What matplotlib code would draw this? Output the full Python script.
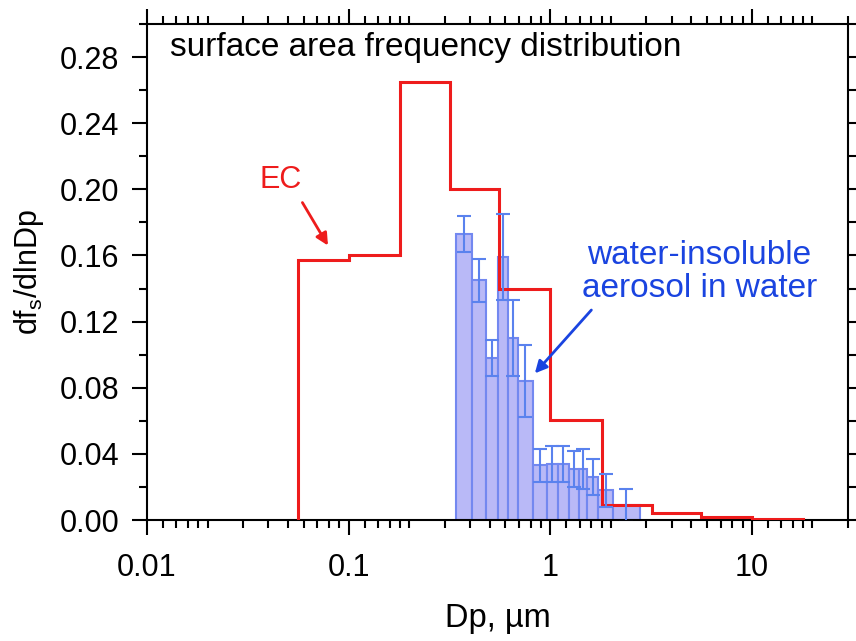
import matplotlib.pyplot as plt
import matplotlib.ticker as mticker
import numpy as np

plt.rcParams["font.family"] = ["Liberation Sans", "DejaVu Sans"]
plt.rcParams["mathtext.fontset"] = "custom"
plt.rcParams["mathtext.rm"] = "Liberation Sans"

# EC impactor stages (size bin edges, um) and surface-area frequency
ec_edges = [0.056, 0.10, 0.18, 0.32, 0.56, 1.0, 1.8, 3.2, 5.6, 10.0, 18.0]
ec_values = [0.157, 0.160, 0.265, 0.200, 0.140, 0.0605, 0.0088, 0.0043, 0.002, 0.0004]

# water-insoluble aerosol in water (bin edges, um), values and errors
wi_edges = [0.34, 0.41, 0.48, 0.55, 0.62, 0.69, 0.82, 0.96, 1.09, 1.24,
            1.39, 1.52, 1.73, 2.05, 2.78]
wi_values = [0.173, 0.145, 0.098, 0.159, 0.110, 0.084, 0.033, 0.034, 0.034,
             0.031, 0.031, 0.026, 0.018, 0.009]
wi_errors = [0.011, 0.013, 0.011, 0.026, 0.023, 0.022, 0.010, 0.011, 0.011,
             0.011, 0.012, 0.011, 0.010, 0.010]

RED = "#ee1c1c"
BLUE_TEXT = "#1a44e0"
BAR_FILL = "#b9b9f7"
BAR_EDGE = "#7388f0"
ERR_COLOR = "#5a82ee"

fig = plt.figure(figsize=(8.56, 6.41), dpi=100)
ax = fig.add_axes([147 / 856, 1 - 520 / 641, 701 / 856, 496 / 641])

edges = np.array(wi_edges)
ax.bar(edges[:-1], wi_values, width=np.diff(edges), align="edge",
       color=BAR_FILL, edgecolor=BAR_EDGE, linewidth=1.5, zorder=2)
centers = np.sqrt(edges[:-1] * edges[1:])
ax.errorbar(centers, wi_values, yerr=wi_errors, fmt="none", ecolor=ERR_COLOR,
            elinewidth=1.5, capsize=4.7, capthick=1.5, zorder=4)

ax.stairs(ec_values, ec_edges, baseline=0, color=RED, linewidth=2.2, zorder=3)

ax.set_xscale("log")
ax.set_xlim(0.01, 30)
ax.set_ylim(0, 0.30)

ax.xaxis.set_major_locator(mticker.FixedLocator([0.01, 0.1, 1, 10]))
ax.xaxis.set_major_formatter(mticker.FixedFormatter(["0.01", "0.1", "1", "10"]))
ax.xaxis.set_minor_locator(mticker.LogLocator(
    base=10, subs=[1.2, 1.4, 1.6, 1.8, 2, 3, 4, 5, 6, 7, 8, 9], numticks=20))
ax.xaxis.set_minor_formatter(mticker.NullFormatter())
ax.yaxis.set_major_locator(mticker.MultipleLocator(0.04))
ax.yaxis.set_minor_locator(mticker.MultipleLocator(0.02))
ax.yaxis.set_major_formatter(mticker.FormatStrFormatter("%.2f"))

for s in ax.spines.values():
    s.set_linewidth(1.5)
ax.tick_params(which="both", direction="out", top=True, right=True,
               width=1.5, labelsize=22)
ax.tick_params(which="major", length=11, pad=9)
ax.tick_params(which="minor", length=6)
ax.tick_params(axis="x", which="major", pad=13)

ax.set_xlabel("Dp, µm", fontsize=23.5, labelpad=14)
ax.set_ylabel(r"df$_\mathregular{s}$/dlnDp", fontsize=22, labelpad=10)

ax.text(0.033, 0.952, "surface area frequency distribution", transform=ax.transAxes,
        fontsize=24, ha="left", va="center")

ax.text(0.046, 0.2056, "EC", color=RED, fontsize=22, ha="center", va="center")
ax.annotate("", xy=(0.079, 0.166), xytext=(0.059, 0.192),
            arrowprops=dict(arrowstyle="-|>", color=RED, lw=2,
                            mutation_scale=18, shrinkA=0, shrinkB=0))

ax.text(5.5, 0.150, "water-insoluble\naerosol in water", color=BLUE_TEXT,
        fontsize=24, ha="center", va="center", linespacing=1.1)
ax.annotate("", xy=(0.839, 0.0887), xytext=(1.6, 0.127),
            arrowprops=dict(arrowstyle="-|>", color=BLUE_TEXT, lw=2,
                            mutation_scale=18, shrinkA=0, shrinkB=0))

fig.savefig("out.png", dpi=100)
